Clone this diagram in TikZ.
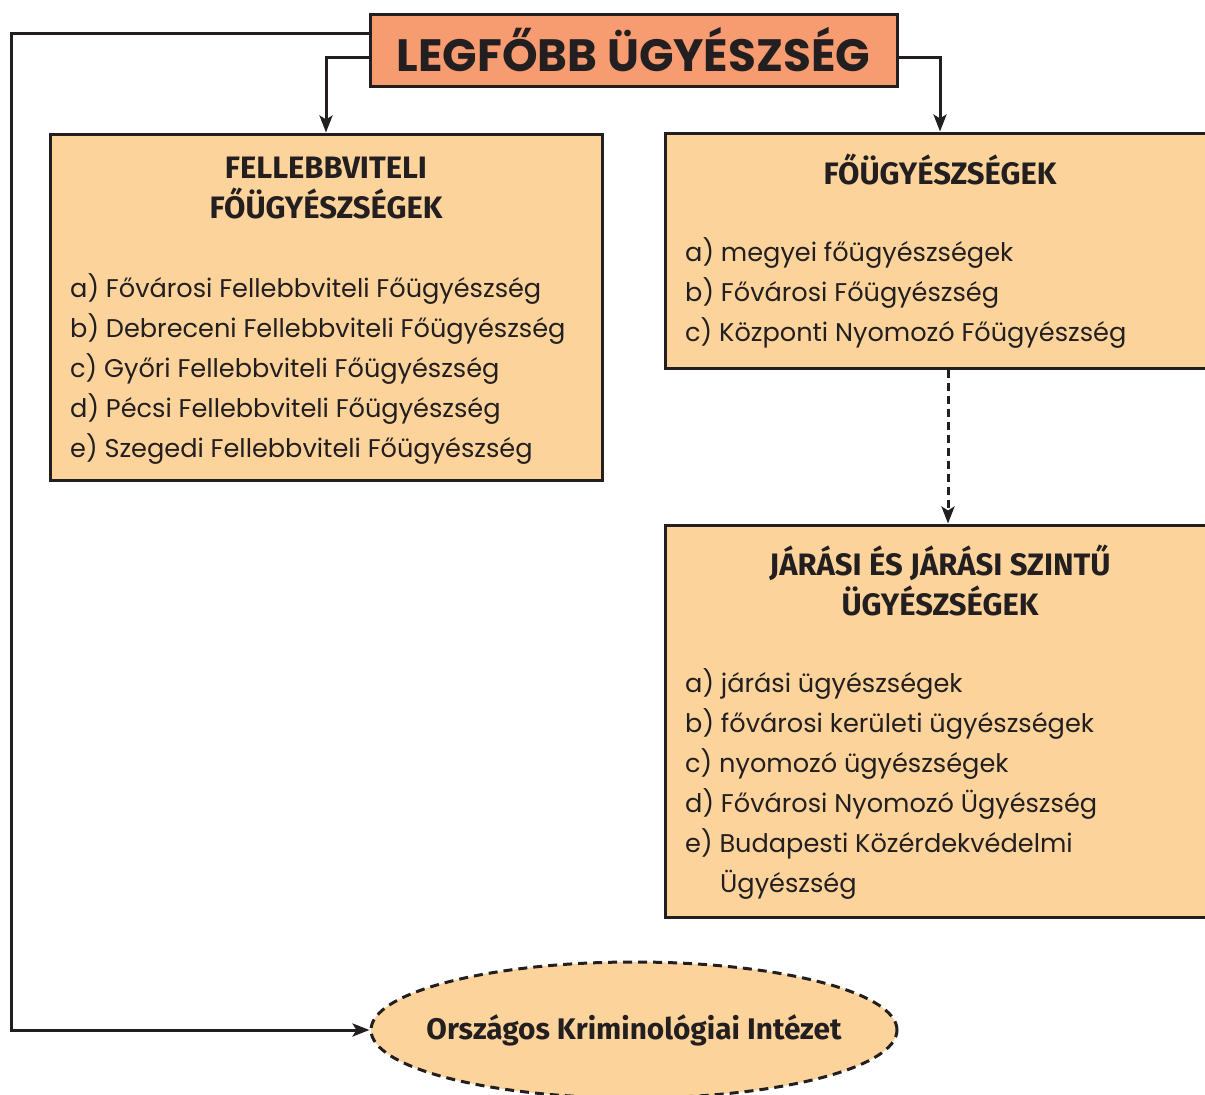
\documentclass[tikz,border=0pt]{standalone}
\usepackage{fontspec}
\setmainfont{Poppins}
\newfontfamily\headfont{Fira Sans}
\usetikzlibrary{arrows.meta,shapes.geometric}
\definecolor{mysalmon}{RGB}{247,155,112}
\definecolor{mypeach}{RGB}{252,212,155}
\definecolor{myink}{RGB}{35,31,32}

\tikzset{
  box/.style={draw=myink, line width=3pt, fill=mypeach, inner sep=0pt},
  heading/.style={font=\headfont\bfseries\fontsize{31}{40}\selectfont, text=myink, align=center},
  item/.style={font=\fontsize{25.6}{40}\selectfont, text=myink, inner sep=0pt, anchor=base west},
  link/.style={draw=myink, line width=3pt, -{Stealth[length=17pt,width=13pt,inset=4pt]}},
}

\begin{document}
\begin{tikzpicture}[x=1pt, y=-1pt] % one unit is one pixel of the reference
  \useasboundingbox (0,0) rectangle (1205,1095);
  \clip (0,0) rectangle (1205,1095);

  % Top level
  \node[box, fill=mysalmon, minimum width=527pt, minimum height=72pt,
        font=\bfseries\fontsize{45.3}{50}\selectfont, text=myink] (top) at (633.5,50) {LEGFŐBB ÜGYÉSZSÉG};

  % The three boxes
  \node[box, minimum width=552pt, minimum height=346pt] (lbox) at (326,307) {};
  \node[box, minimum width=550pt, minimum height=235pt] (fbox) at (940,250.5) {};
  \node[box, minimum width=550pt, minimum height=392pt] (jbox) at (940,721) {};

  % Institute
  \node[ellipse, draw=myink, line width=3pt, dash pattern=on 9pt off 6pt, fill=mypeach,
        minimum width=526pt, minimum height=136pt, inner sep=0pt] (oki) at (634,1030) {};
  \node[font=\headfont\bfseries\fontsize{29.8}{34}\selectfont, text=myink, inner sep=0pt] (okitext) at (oki.center) {Országos Kriminológiai Intézet};

  % Headings
  \node[heading] (lhead) at (326,188) {FELLEBBVITELI\\FŐÜGYÉSZSÉGEK};
  \node[heading] (fhead) at (940,169) {FŐÜGYÉSZSÉGEK};
  \node[heading] (jhead) at (940,580) {JÁRÁSI ÉS JÁRÁSI SZINTŰ\\ÜGYÉSZSÉGEK};

  % Lists
  \foreach \txt [count=\i] in {a) Fővárosi Fellebbviteli Főügyészség,
      b) Debreceni Fellebbviteli Főügyészség, c) Győri Fellebbviteli Főügyészség,
      d) Pécsi Fellebbviteli Főügyészség, e) Szegedi Fellebbviteli Főügyészség}
    \node[item] (l\i) at (70,257+40*\i) {\txt};

  \foreach \txt [count=\i] in {a) megyei főügyészségek, b) Fővárosi Főügyészség,
      c) Központi Nyomozó Főügyészség}
    \node[item] (f\i) at (685,221+40*\i) {\txt};

  \foreach \xx/\txt [count=\i] in {685/a) járási ügyészségek, 685/b) fővárosi kerületi ügyészségek,
      685/c) nyomozó ügyészségek, 685/d) Fővárosi Nyomozó Ügyészség,
      685/e) Budapesti Közérdekvédelmi, 720/Ügyészség}
    \node[item] (j\i) at (\xx,652+40*\i) {\txt};

  % Connectors
  \draw[link] ([yshift=-7pt]top.west) -| (lbox.north);
  \draw[link] ([yshift=-7pt]top.east) -| (fbox.north);
  \draw[link, dash pattern=on 8pt off 5pt] ([xshift=8pt]fbox.south) -- ([xshift=8pt]jbox.north);
  \coordinate (corner) at (11,33);
  \draw[link] ([yshift=17pt]top.west) -- (corner) |- (oki.west);
\end{tikzpicture}
\end{document}
